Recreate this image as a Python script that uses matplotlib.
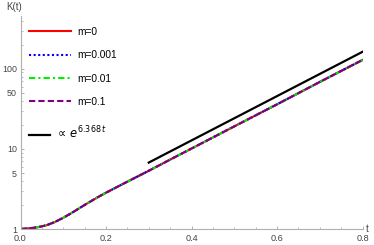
import matplotlib
matplotlib.use('Agg')
import matplotlib.pyplot as plt

plt.rcParams['font.family'] = ['Liberation Sans', 'DejaVu Sans']
plt.rcParams['mathtext.fontset'] = 'dejavusans'

# K(t) (all four m values overlap)
t_vals = [0.00, 0.02, 0.04, 0.06, 0.08, 0.10, 0.12, 0.14, 0.16, 0.18, 0.20,
          0.25, 0.30, 0.35, 0.40, 0.50, 0.60, 0.70, 0.80]
K_vals = [1.00, 1.02, 1.05, 1.11, 1.22, 1.38, 1.59, 1.85, 2.15, 2.48, 2.84,
          3.90, 5.33, 7.35, 10.1, 19.1, 36.0, 68.5, 129.0]
m_labels = ['m=0', 'm=0.001', 'm=0.01', 'm=0.1']
m_colors = ['#ff0000', '#0000ff', '#00ee00', '#800080']
m_styles = ['-', (0, (1, 1.2)), (0, (3, 1.5, 1, 1.5)), (0, (3, 1.5))]

# exponential guide line  ~ e^{6.368 t}
fit_t = [0.3, 0.8]
fit_K = [6.75, 163.0]
fit_label = r'$\propto\, e^{6.368\,t}$'

xticks = [0.0, 0.2, 0.4, 0.6, 0.8]
yticks = [1, 5, 10, 50, 100]

fig = plt.figure(figsize=(3.74, 2.45), dpi=100)
ax = fig.add_axes([20.5 / 374, 1 - 229 / 245, 342 / 374, 212.5 / 245])

handles = []
for lab, col, ls in zip(m_labels, m_colors, m_styles):
    h, = ax.plot(t_vals, K_vals, color=col, linestyle=ls, linewidth=1.5, label=lab)
    handles.append(h)
fit_h, = ax.plot(fit_t, fit_K, color='black', linewidth=1.6, label=fit_label)

ax.set_yscale('log')
ax.set_xlim(0, 0.8)
ax.set_ylim(1, 450)

gray = '#b0b0b0'
for s in ['top', 'right']:
    ax.spines[s].set_visible(False)
for s in ['left', 'bottom']:
    ax.spines[s].set_color(gray)
    ax.spines[s].set_linewidth(0.8)

ax.set_xticks(xticks)
ax.set_xticklabels([f'{v:.1f}' for v in xticks])
ax.set_xticks([i * 0.05 for i in range(17)], minor=True)
ax.set_yticks(yticks)
ax.set_yticklabels([str(v) for v in yticks])
minor_y = [v * d for d in (1, 10, 100) for v in range(2, 10) if v * d < 450]
ax.set_yticks(minor_y, minor=True)
ax.set_yticklabels([], minor=True)

ax.tick_params(which='both', direction='in', color=gray, labelcolor='#444444',
               labelsize=6.6)
ax.tick_params(which='major', length=2.2, width=0.7)
ax.tick_params(which='minor', length=1.2, width=0.6)
ax.tick_params(axis='x', pad=3.5)
ax.tick_params(axis='y', pad=2.5, labelsize=6.4)

ax.text(1.01, 0.0, 't', transform=ax.transAxes, ha='left', va='center',
        fontsize=7, color='#444444')
ax.text(-0.019, 1.045, 'K(t)', transform=ax.transAxes, ha='center',
        va='center', fontsize=7, color='#444444')

leg1 = ax.legend(handles=handles, loc='upper left',
                 bbox_to_anchor=(29 / 374, 1 - 27 / 245),
                 bbox_transform=fig.transFigure, frameon=False, fontsize=7.3,
                 handlelength=4.1, handletextpad=0.65, labelspacing=1.31,
                 borderpad=0, borderaxespad=0)
ax.add_artist(leg1)
ax.legend(handles=[fit_h], loc='upper left',
          bbox_to_anchor=(29 / 374, 1 - 125 / 245),
          bbox_transform=fig.transFigure, frameon=False, fontsize=8.3,
          handlelength=1.8, handletextpad=0.45, borderpad=0, borderaxespad=0)

fig.savefig('out.png', dpi=100, facecolor='white')
